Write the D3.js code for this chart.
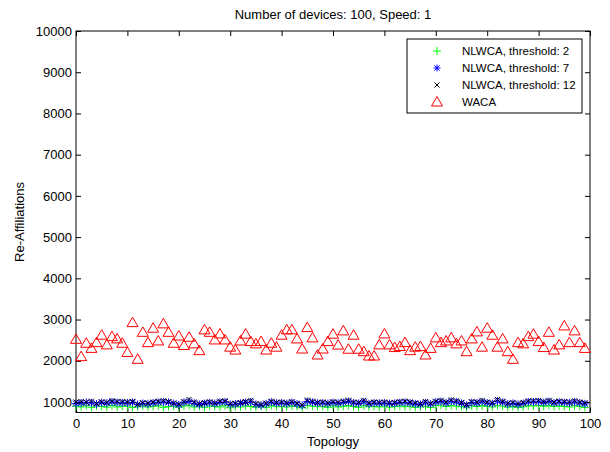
<!DOCTYPE html>
<html>
<head>
<meta charset="utf-8">
<script src="https://cdn.jsdelivr.net/npm/d3@7"></script>
<style>
  body { margin: 0; background: #fff; }
  text { font-family: "Liberation Sans", Arial, sans-serif; }
</style>
</head>
<body>
<svg id="chart" width="610" height="452"></svg>
<script>
// Re-affiliations per topology
var topology = d3.range(0, 100);

var nlwca2 = [900,880,910,870,905,890,875,915,880,895,900,870,885,905,880,895,910,870,890,900,
  875,905,920,880,895,870,905,890,880,910,860,895,880,905,890,875,900,870,915,885,
  895,880,905,890,860,920,900,885,895,870,905,880,895,915,890,870,910,885,895,880,
  900,875,890,905,885,895,870,880,900,865,910,925,890,915,900,885,860,905,890,910,
  895,880,920,900,875,890,870,885,910,905,915,895,920,890,905,890,880,910,895,870];

var nlwca7 = [960,975,990,980,950,985,970,1000,985,980,975,990,940,965,955,975,990,1000,990,960,
  930,990,1010,970,940,960,980,960,990,1000,940,950,965,985,1000,940,920,955,995,970,
  975,960,985,950,920,1010,990,970,975,960,985,970,990,1010,975,965,1005,955,975,970,
  975,960,965,985,990,975,955,940,980,950,995,1010,975,1015,1000,965,920,985,975,1005,
  975,960,1020,990,950,965,940,965,1000,1000,1005,985,1010,975,995,985,975,1000,975,955];

var nlwca12 = [1000,1010,995,1020,960,1005,990,1030,1015,1010,1000,1015,945,985,970,1000,1020,1030,1010,975,
  950,1010,1060,1000,960,985,1005,980,1020,1030,960,970,990,1010,1040,960,940,970,1020,990,
  1000,980,1010,970,930,1045,1020,990,1000,980,1010,990,1020,1045,1000,990,1040,980,1000,990,
  1000,980,990,1010,1020,1000,980,960,1010,970,1020,1040,1000,1050,1030,990,940,1010,1000,1040,
  1000,980,1060,1020,970,990,960,990,1030,1030,1040,1010,1040,1000,1020,1010,1000,1030,1000,980];

var waca = [2520,2100,2425,2300,2440,2620,2385,2585,2530,2425,2200,2925,2035,2690,2440,2790,2480,2895,2690,2425,
  2600,2370,2570,2410,2245,2750,2690,2505,2650,2505,2330,2260,2480,2645,2465,2410,2465,2260,2425,2330,
  2620,2750,2750,2530,2285,2805,2555,2140,2285,2465,2645,2380,2725,2280,2620,2280,2220,2115,2115,2385,
  2650,2385,2320,2345,2440,2245,2330,2345,2140,2300,2555,2440,2480,2555,2410,2480,2220,2530,2700,2330,
  2790,2620,2330,2530,2220,2035,2440,2410,2585,2645,2465,2320,2690,2260,2385,2845,2440,2725,2440,2300];

var xTicks = d3.range(0, 101, 10);
var yTicks = d3.range(1000, 10001, 1000);
var seriesNames = ["NLWCA, threshold: 2", "NLWCA, threshold: 7", "NLWCA, threshold: 12", "WACA"];

var margin = {top: 31, left: 76, right: 20, bottom: 39.5};
var width = 610, height = 452;
var w = width - margin.left - margin.right;
var h = height - margin.top - margin.bottom;

var svg = d3.select("#chart");
svg.append("rect").attr("width", width).attr("height", height).attr("fill", "#fff");

var g = svg.append("g")
    .attr("transform", "translate(" + margin.left + "," + margin.top + ")");

var x = d3.scaleLinear().domain([0, 100]).range([0, w]);
var y = d3.scaleLinear().domain([745, 10000]).range([h, 0]);

/* axes, ticks point inward like matlab */
function styleAxis(sel) {
    sel.select(".domain").remove();
    sel.selectAll("line").attr("stroke", "#000");
    sel.selectAll("text").attr("fill", "#000").style("font-size", "13px")
        .style("font-family", "'Liberation Sans', Arial, sans-serif");
}
g.append("g").attr("transform", "translate(0," + h + ")")
    .call(d3.axisBottom(x).tickValues(xTicks).tickSize(-5).tickPadding(6).tickFormat(d3.format("d")))
    .call(styleAxis);
g.append("g")
    .call(d3.axisTop(x).tickValues(xTicks).tickSize(-5).tickFormat(""))
    .call(styleAxis);
g.append("g")
    .call(d3.axisLeft(y).tickValues(yTicks).tickSize(-5).tickPadding(4).tickFormat(d3.format("d")))
    .call(styleAxis);
g.append("g").attr("transform", "translate(" + w + ",0)")
    .call(d3.axisRight(y).tickValues(yTicks).tickSize(-5).tickFormat(""))
    .call(styleAxis);

g.append("rect")
    .attr("x", 0).attr("y", 0).attr("width", w).attr("height", h)
    .attr("fill", "none").attr("stroke", "#000").attr("stroke-width", 1);

/* marker shapes */
function plusPath(s) { return "M" + (-s) + ",0H" + s + "M0," + (-s) + "V" + s; }
function crossPath(s) { return "M" + (-s) + "," + (-s) + "L" + s + "," + s + "M" + (-s) + "," + s + "L" + s + "," + (-s); }
function starPath(s) { var d = s * 0.75; return plusPath(s) + crossPath(d); }
function triPath() { return "M0,-5.5L5.5,4L-5.5,4Z"; }

var plot = g.append("g");

function drawSeries(data, shape, color, sw) {
    plot.append("g").selectAll("path")
        .data(data)
        .join("path")
        .attr("transform", (d, i) => "translate(" + x(topology[i]) + "," + y(d) + ")")
        .attr("d", shape)
        .attr("fill", "none")
        .attr("stroke", color)
        .attr("stroke-width", sw);
}
drawSeries(nlwca2, plusPath(4), "#00ff00", 1);
drawSeries(nlwca7, starPath(4), "#0000ff", 1);
drawSeries(nlwca12, crossPath(2.5), "#000000", 1);
drawSeries(waca, triPath(), "#ff0000", 1);

/* titles */
svg.append("text")
    .attr("x", margin.left + w / 2).attr("y", 19)
    .attr("text-anchor", "middle").style("font-size", "13px")
    .text("Number of devices: 100, Speed: 1");
svg.append("text")
    .attr("x", margin.left + w / 2).attr("y", 446)
    .attr("text-anchor", "middle").style("font-size", "13px")
    .text("Topology");
svg.append("text")
    .attr("transform", "translate(24,222) rotate(-90)")
    .attr("text-anchor", "middle").style("font-size", "13px")
    .text("Re-Affiliations");

/*** legend ***/
var legend = svg.append("g").attr("transform", "translate(407,39)");
legend.append("rect")
    .attr("x", 0).attr("y", 0).attr("width", 175).attr("height", 74)
    .attr("fill", "#fff").attr("stroke", "#000");
var legShapes = [plusPath(4), starPath(3.5), crossPath(2.5), triPath()];
var legColors = ["#00ff00", "#0000ff", "#000000", "#ff0000"];
seriesNames.forEach(function(name, i) {
    var cy = 12 + i * 17;
    legend.append("path")
        .attr("transform", "translate(30," + cy + ")")
        .attr("d", legShapes[i])
        .attr("fill", "none")
        .attr("stroke", legColors[i]);
    legend.append("text")
        .attr("x", 55).attr("y", cy + 4)
        .style("font-size", "11.5px")
        .text(name);
});
</script>
</body>
</html>
